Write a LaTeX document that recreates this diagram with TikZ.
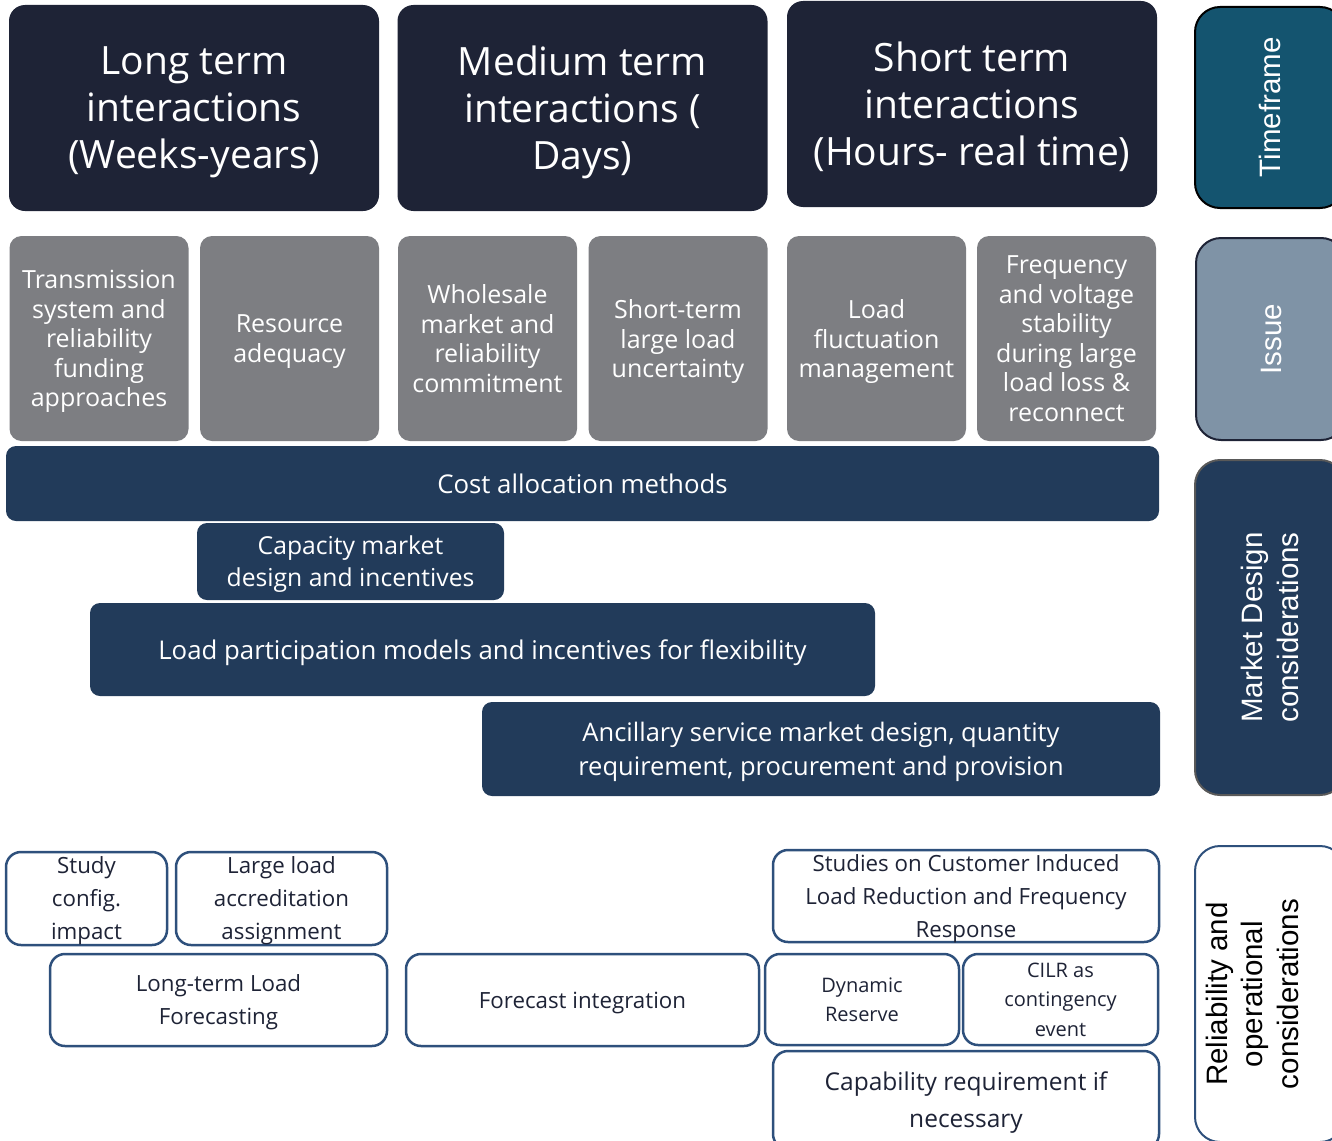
\documentclass[tikz,border=0pt]{standalone}
\usepackage{fontspec}
\setmainfont{Open Sans}
\newfontfamily\sidefont{Liberation Sans}
\usepackage{tikz}
\usetikzlibrary{positioning}
\definecolor{headnavy}{RGB}{30,35,54}
\definecolor{timeteal}{RGB}{20,84,111}
\definecolor{issueblue}{RGB}{127,147,166}
\definecolor{issuegray}{RGB}{125,126,130}
\definecolor{barnavy}{RGB}{34,59,90}
\definecolor{relblue}{RGB}{46,80,124}

\begin{document}
\begin{tikzpicture}[x=1pt, y=-1pt,
  headbox/.style={fill=headnavy, text=white, rounded corners=16pt,
               minimum width=370pt, minimum height=206pt, inner sep=0pt,
               align=center, font=\fontsize{39}{47}\selectfont, text depth=1.5pt},
  issuebox/.style={fill=issuegray, text=white, rounded corners=12pt,
               minimum width=179pt, minimum height=205pt, inner sep=0pt,
               align=center, font=\fontsize{25}{29.5}\selectfont, text depth=0pt},
  mktbar/.style={fill=barnavy, text=white, rounded corners=10pt, inner sep=0pt,
               align=center, font=\fontsize{25.8}{33}\selectfont, text depth=-2pt},
  relbox/.style={draw=relblue, line width=2.5pt, fill=white, text=headnavy,
               rounded corners=15pt, inner sep=0pt, align=center,
               font=\fontsize{22.3}{33}\selectfont, text depth=-3pt},
  sidebox/.style={rotate=90, rounded corners=25pt, line width=2pt, inner sep=0pt,
               minimum height=150pt, align=center, text=white,
               font=\sidefont\fontsize{29.5}{35.5}\selectfont}
]
  \clip (0,0) rectangle (1332,1140);

  % timeframes
  \node[headbox] (tlong) at (194,108) {Long term\\interactions\\(Weeks-years)};
  \node[headbox] (tmed) at (582.5,108) {Medium term\\interactions (\\Days)};
  \node[headbox] (tshort) at (972,104) {Short term\\interactions\\(Hours- real time)};

  % issues
  \node[issuebox] (iTrans) at (99,338.5) {Transmission\\system and\\reliability\\funding\\approaches};
  \node[issuebox] (iRes) at (289.5,338.5) {Resource\\adequacy};
  \node[issuebox] (iWhole) at (487.5,338.5) {Wholesale\\market and\\reliability\\commitment};
  \node[issuebox] (iShort) at (678,338.5) {Short-term\\large load\\uncertainty};
  \node[issuebox] (iFluct) at (876.5,338.5) {Load\\fluctuation\\management};
  \node[issuebox] (iFreq) at (1066.5,338.5) {Frequency\\and voltage\\stability\\during large\\load loss \&\\reconnect};

  % market design
  \node[mktbar, minimum width=1153pt, minimum height=75pt] (mCost) at (582.5,483.5) {Cost allocation methods};
  \node[mktbar, minimum width=307pt, minimum height=77pt,
        font=\fontsize{24.7}{32}\selectfont] (mCap) at (350.5,561.5) {Capacity market\\design and incentives};
  \node[mktbar, minimum width=785pt, minimum height=93pt] (mLoad) at (482.5,649.5) {Load participation models and incentives for flexibility};
  \node[mktbar, minimum width=678pt, minimum height=94pt,
        font=\fontsize{25.5}{34}\selectfont] (mAnc) at (821,749) {Ancillary service market design, quantity\\requirement, procurement and provision};

  % reliability and operations
  \node[relbox, minimum width=161pt, minimum height=93pt] (rStudy) at (86.5,898.5) {Study\\config.\\impact};
  \node[relbox, minimum width=211pt, minimum height=93pt] (rAccr) at (281.5,898.5) {Large load\\accreditation\\assignment};
  \node[relbox, minimum width=337pt, minimum height=92pt] (rLtlf) at (218.5,1000) {Long-term Load\\Forecasting};
  \node[relbox, minimum width=353pt, minimum height=92pt] (rFcst) at (582.5,1000) {Forecast integration};
  \node[relbox, minimum width=386pt, minimum height=92pt] (rCilrStudy) at (966,896) {Studies on Customer Induced\\Load Reduction and Frequency\\Response};
  \node[relbox, minimum width=194pt, minimum height=91pt,
        font=\fontsize{20}{29.5}\selectfont] (rDyn) at (862,999.5) {Dynamic\\Reserve};
  \node[relbox, minimum width=195pt, minimum height=91pt,
        font=\fontsize{20}{29.5}\selectfont] (rCilr) at (1060.5,999.5) {CILR as\\contingency\\event};
  \node[relbox, minimum width=386pt, minimum height=98pt,
        font=\fontsize{24.5}{37}\selectfont] (rCap) at (966,1100) {Capability requirement if\\necessary};

  % side labels
  \node[sidebox, draw=black, fill=timeteal, minimum width=201pt] (sTime) at (1270,107.5) {Timeframe};
  \node[sidebox, draw=headnavy, fill=issueblue, minimum width=202pt] (sIssue) at (1271,339) {Issue};
  \node[sidebox, draw=black!65, fill=barnavy, minimum width=335pt] (sMkt) at (1270,627.5) {Market Design\\considerations};
  \node[sidebox, draw=relblue, fill=white, minimum width=296pt] (sRel) at (1270,994) {};
  \node[sidebox, text=black, minimum width=0pt, minimum height=0pt] (sRelText) at (1252,994) {Reliability and\\operational\\considerations};
\end{tikzpicture}
\end{document}
